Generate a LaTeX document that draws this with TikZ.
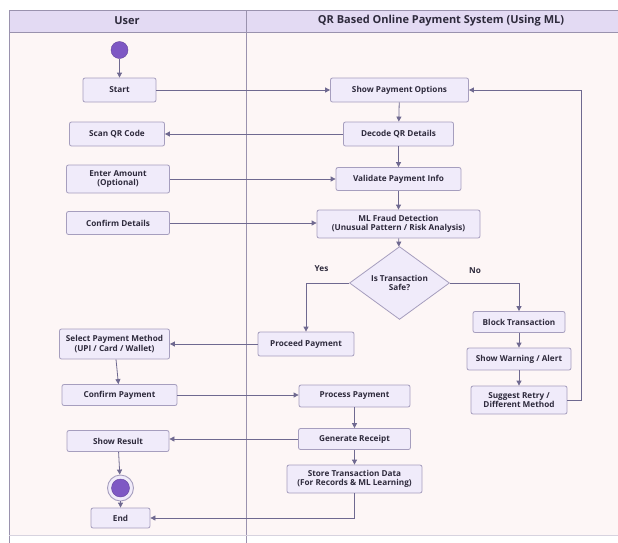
\documentclass[tikz,border=0pt]{standalone}
\usepackage{fontspec}
\setmainfont{Open Sans}
\usetikzlibrary{arrows.meta,shapes.geometric}
\definecolor{poolbg}{HTML}{FDF6F6}
\definecolor{headbg}{HTML}{E3DAF3}
\definecolor{frame}{HTML}{9A92AE}
\definecolor{boxfill}{HTML}{F0EBFA}
\definecolor{boxline}{HTML}{A69EBE}
\definecolor{arr}{HTML}{6F6990}
\definecolor{dot}{HTML}{7E58C4}
\definecolor{txt}{HTML}{2E2A3C}
\tikzset{
  box/.style={draw=boxline, fill=boxfill, rounded corners=2, line width=0.8,
    align=center, inner sep=1, text=txt,
    font=\fontsize{8.2}{9.6}\selectfont\bfseries},
  flow/.style={draw=arr, line width=0.8, -{Triangle[length=5,width=5]}},
  lbl/.style={text=txt, font=\fontsize{8.2}{9.6}\selectfont\bfseries},
  head/.style={text=txt, font=\fontsize{11}{13}\selectfont\bfseries}
}
\begin{document}
\begin{tikzpicture}[x=1pt,y=-1pt]
\useasboundingbox (0,0) rectangle (618,542);
\fill[white] (0,0) rectangle (618,542);
\begin{scope}
\clip (0,0) rectangle (618,542);
\fill[poolbg] (9,10) rectangle (622,535);
\fill[headbg] (9,10) rectangle (622,32);
\draw[frame, line width=0.8] (622,10) -- (9,10) -- (9,545);
\draw[frame, line width=0.8] (9,32) -- (622,32);
\draw[frame, line width=0.8] (246,10) -- (246,545);
\draw[frame!40, line width=0.5] (9,535) -- (622,535);
\end{scope}
\node[head] (hu) at (127,21) {User};
\node[head] (hs) at (441,21) {QR Based Online Payment System (Using ML)};

% user lane
\node[circle, fill=dot, draw=dot!80!black, line width=0.4, minimum size=17, inner sep=0] (init) at (119.5,50) {};
\node[box, minimum width=73, minimum height=24] (start) at (119.5,90) {Start};
\node[box, minimum width=95, minimum height=24] (scan) at (117,134) {Scan QR Code};
\node[box, minimum width=103, minimum height=28] (amount) at (118,179) {Enter Amount\\(Optional)};
\node[box, minimum width=103, minimum height=23] (confirmd) at (118,223) {Confirm Details};
\node[box, minimum width=110, minimum height=30] (select) at (114.5,344) {Select Payment Method\\(UPI / Card / Wallet)};
\node[box, minimum width=115, minimum height=21] (confirmp) at (119.5,395) {Confirm Payment};
\node[box, minimum width=102, minimum height=21] (result) at (118,441) {Show Result};
\node[circle, draw=boxline, fill=boxfill, line width=0.9, minimum size=26, inner sep=0] (final) at (120.5,488) {};
\node[circle, fill=dot, draw=dot!80!black, line width=0.4, minimum size=18, inner sep=0] (finalin) at (final) {};
\node[box, minimum width=59, minimum height=20] (endn) at (120.5,518) {End};

% system lane
\node[box, minimum width=138, minimum height=24] (spo) at (399.5,90) {Show Payment Options};
\node[box, minimum width=110, minimum height=24] (decode) at (398.5,134) {Decode QR Details};
\node[box, minimum width=125, minimum height=23] (validate) at (398.5,179) {Validate Payment Info};
\node[box, minimum width=163, minimum height=28] (ml) at (398.5,224) {ML Fraud Detection\\(Unusual Pattern / Risk Analysis)};
\node[diamond, draw=boxline, fill=boxfill, line width=0.8, minimum width=100, minimum height=60, inner sep=0, align=center, text=txt, font=\fontsize{8.2}{9.6}\selectfont\bfseries] (dec) at (399.5,283) {Is Transaction\\Safe?};
\node[box, minimum width=96, minimum height=24] (proceed) at (306,344) {Proceed Payment};
\node[box, minimum width=92, minimum height=21] (block) at (519,322) {Block Transaction};
\node[box, minimum width=104, minimum height=22] (warn) at (519,359) {Show Warning / Alert};
\node[box, minimum width=96, minimum height=28] (suggest) at (519,400) {Suggest Retry /\\Different Method};
\node[box, minimum width=111, minimum height=22] (process) at (354.5,396) {Process Payment};
\node[box, minimum width=112, minimum height=21] (receipt) at (354.5,439) {Generate Receipt};
\node[box, minimum width=135, minimum height=28] (store) at (354.5,479) {Store Transaction Data\\(For Records \& ML Learning)};

\node[lbl] (yes) at (321.5,269) {Yes};
\node[lbl] (no) at (475,271) {No};
\coordinate (loopx) at (581.5,90);

% connectors
\draw[flow] (init) -- (start);
\draw[flow] (start) -- (spo);
\draw[flow] (spo) -- (decode);
\draw[flow] (decode) -- (scan);
\draw[flow] (decode) -- (validate);
\draw[flow] (amount) -- (validate);
\draw[flow] (validate) -- (ml);
\draw[flow] (confirmd.east) -- (confirmd.east -| ml.west);
\draw[flow] (ml) -- (dec);
\draw[flow] (dec.west) -| (proceed.north);
\draw[flow] (dec.east) -| (block.north);
\draw[flow] (proceed) -- (select);
\draw[flow] (select) -- (confirmp);
\draw[flow] (block) -- (warn);
\draw[flow] (warn) -- (suggest);
\draw[flow] (suggest.east) -- (suggest.east -| loopx) |- (spo.east);
\draw[flow] (confirmp.east) -- (confirmp.east -| process.west);
\draw[flow] (process) -- (receipt);
\draw[flow] (receipt.west) -- (receipt.west -| result.east);
\draw[flow] (receipt) -- (store);
\draw[flow] (result) -- (final);
\draw[flow] (final) -- (endn);
\draw[flow] (store.south) |- (endn.east);
\end{tikzpicture}
\end{document}
